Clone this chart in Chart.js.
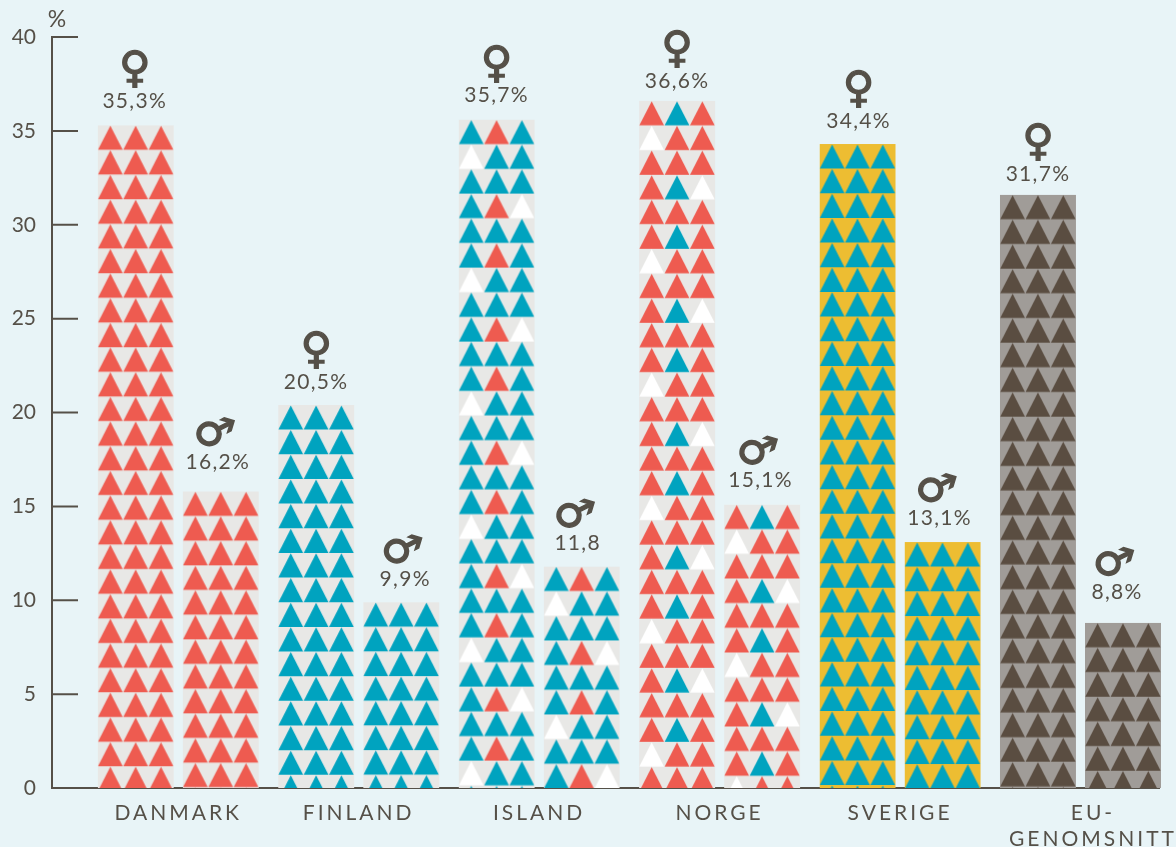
<!DOCTYPE html>
<html><head><meta charset="utf-8">
<style>html,body{margin:0;padding:0;background:#e8f4f7;overflow:hidden}canvas{display:block}</style>
<script src="https://cdn.jsdelivr.net/npm/chart.js@4"></script>
</head><body><canvas id="c" width="1176" height="847"></canvas>
<script>
const categories = ["DANMARK","FINLAND","ISLAND","NORGE","SVERIGE",["EU-","GENOMSNITT"]];
const yTicks = [0,5,10,15,20,25,30,35,40];
const womenBars = [35.3,20.4,35.6,36.6,34.3,31.6];
const menBars = [15.8,9.9,11.8,15.1,13.1,8.8];
const womenLabels = ["35,3%","20,5%","35,7%","36,6%","34,4%","31,7%"];
const menLabels = ["16,2%","9,9%","11,8","15,1%","13,1%","8,8%"];
const womenLabelAt = [35.3,20.5,35.7,36.6,34.4,31.7];
const menLabelAt = [16.2,9.9,11.8,15.1,13.1,8.8];

const COLORS = {R:"#ee5b50",B:"#00a3bf",W:"#ffffff",D:"#5a4d41"};
const GREY="#e8e8e6", YELLOW="#edbd32", TAUPE="#a09c98";
const rowCycles = [["RRR"],["BBB"],["BRB","WBB","BBB","BRW","BBB"],["RBR","WRR","RRR","RBW","RRR"],["BBB"],["DDD"]];
const tileGrounds = [GREY,GREY,GREY,GREY,YELLOW,TAUPE];
const INK="#555048", FONT='Lato';
const womenNudge = [[-1,-1],[0,2],[0,1],[0,3],[1,2],[0,4]];
const menNudge = [[-3,1],[4,0],[-4,0],[-1.5,-1],[-3,-1],[-6,-8]];

const canvas=document.getElementById('c'), ctx=canvas.getContext('2d');
function makePattern(i){
  const t=document.createElement('canvas'); t.width=80; t.height=760;
  const g=t.getContext('2d'); g.fillStyle=tileGrounds[i]; g.fillRect(0,0,80,760);
  const rows=rowCycles[i], rowH=24.66, colW=25.33;
  for(let r=0;r<31;r++){ const row=rows[r%rows.length];
    for(let c=0;c<3;c++){
      g.fillStyle=COLORS[row[c]];
      const x=c*colW+0.3, y=r*rowH;
      g.beginPath(); g.moveTo(x,y+24.6); g.lineTo(x+24.7,y+24.6); g.lineTo(x+12.35,y+0.4); g.closePath(); g.fill();
    }
  }
  return ctx.createPattern(t,'no-repeat');
}
const womenFill=categories.map((_,i)=>makePattern(i));
const menFill=categories.map((_,i)=>makePattern(i));

const framePlugin={
  id:'frame',
  afterDatasetsUpdate(chart){
    chart.data.datasets.forEach((ds,d)=>{
      chart.getDatasetMeta(d).data.forEach((el,i)=>{
        ds.backgroundColor[i].setTransform(new DOMMatrix().translate(el.x-el.width/2,el.y));
      });
    });
    const items=chart.scales.x.getLabelItems();
    items.filter(it=>Array.isArray(it.label)).forEach(it=>{it.options.translation[0]+=12.5;});
  },
  beforeDatasetsDraw(chart){
    const y=chart.scales.y,c=chart.ctx,x0=52,x1=78,right=1160;
    c.save(); c.strokeStyle=INK; c.lineWidth=2;
    c.beginPath();
    c.moveTo(x0,y.getPixelForValue(40)-1); c.lineTo(x0,y.getPixelForValue(0)+1);
    y.ticks.forEach(t=>{ if(t.value===0)return; const p=y.getPixelForValue(t.value); c.moveTo(x0,p); c.lineTo(x1,p); });
    c.moveTo(x0,y.getPixelForValue(0)); c.lineTo(right,y.getPixelForValue(0));
    c.stroke(); c.restore();
  },
  afterDatasetsDraw(chart){
    const y=chart.scales.y,c=chart.ctx;
    c.save(); c.fillStyle=INK; c.strokeStyle=INK; c.textAlign='center'; c.textBaseline='middle';
    const draw=(d,labels,at,nudge,sym)=>{
      chart.getDatasetMeta(d).data.forEach((el,i)=>{
        const py=y.getPixelForValue(at[i])-23+nudge[i][1], px=el.x+nudge[i][0];
        c.letterSpacing='1.3px'; c.font='21px '+FONT; c.fillText(labels[i],px,py);
        c.letterSpacing='0px'; c.font='43px "DejaVu Sans"'; c.lineWidth=1.4;
        if(sym==='♀'){ c.fillText(sym,px,py-30); c.strokeText(sym,px,py-30); }
        else { c.save(); c.translate(px-5,py-27); c.rotate(17*Math.PI/180); c.fillText(sym,0,0); c.strokeText(sym,0,0); c.restore(); }
      });
    };
    draw(0,womenLabels,womenLabelAt,womenNudge,'♀'); draw(1,menLabels,menLabelAt,menNudge,'♂');
    c.font='23px '+FONT; c.fillText('%',57,20);
    c.restore();
    chart.ctx.letterSpacing='3px';
  },
  afterDraw(chart){ chart.ctx.letterSpacing='0px'; }
};

new Chart(ctx,{type:'bar',
  data:{labels:categories,datasets:[
    {label:'Kvinnor',data:womenBars,backgroundColor:womenFill},
    {label:'Män',data:menBars,backgroundColor:menFill}
  ]},
  options:{responsive:false,animation:false,
    layout:{autoPadding:false,padding:{top:37,right:5.3,left:0,bottom:0}},
    datasets:{bar:{categoryPercentage:0.9424,barPercentage:0.894,borderWidth:0}},
    plugins:{legend:{display:false},title:{display:false},tooltip:{enabled:false}},
    scales:{
      x:{grid:{display:false},border:{display:false},
        afterFit(s){s.height=59;},
        ticks:{z:1,color:INK,autoSkip:false,maxRotation:0,minRotation:0,padding:4,font:{family:FONT,size:21,lineHeight:1.24}}},
      y:{min:0,max:40,grid:{display:false},border:{display:false},
        afterFit(s){s.width=88;s.paddingTop=0;s.paddingBottom=0;},
        afterBuildTicks(s){s.ticks=yTicks.map(v=>({value:v}));},
        ticks:{color:INK,padding:44,font:{family:FONT,size:21}}}
    }
  },
  plugins:[framePlugin]
});
</script></body></html>
